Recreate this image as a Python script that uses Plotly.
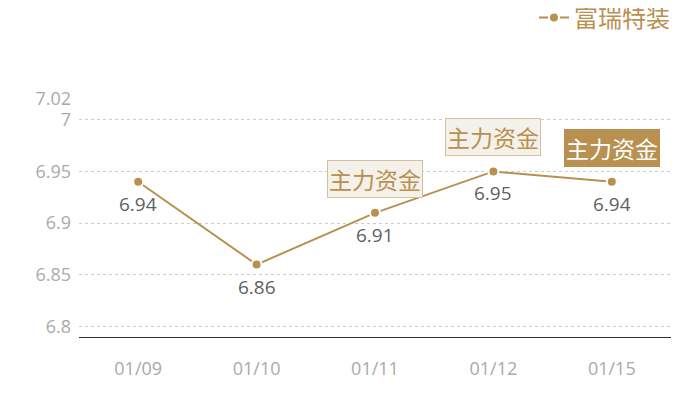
import plotly.graph_objs as go

# data
dates = ["01/09", "01/10", "01/11", "01/12", "01/15"]
prices = [6.94, 6.86, 6.91, 6.95, 6.94]
series_name = "富瑞特装"
y_ticks = [6.8, 6.85, 6.9, 6.95, 7, 7.02]
y_tick_text = ["6.8", "6.85", "6.9", "6.95", "7", "7.02"]
flag_text = "主力资金"
flag_dates = ["01/11", "01/12", "01/15"]
flag_solid = [False, False, True]

gold = "#b8904f"
font_family = "Open Sans, Noto Sans CJK SC, sans-serif"

# page body has an 8px margin, so the figure sits 8px right/down in the window
off = 8
ml, mt = 79 - off, 99 - off
mr, mb = 29 + off, 63 + off
plot_w = 700 - ml - mr
plot_h = 400 - mt - mb

fig = go.Figure()
fig.add_trace(
    go.Scatter(
        x=dates,
        y=prices,
        name=series_name,
        mode="lines+markers",
        line=dict(color=gold, width=2),
        marker=dict(color=gold, size=10, line=dict(color="white", width=2)),
        showlegend=True,
    )
)

# value labels under each point
for d, v in zip(dates, prices):
    fig.add_annotation(
        x=d,
        y=v,
        text=f"{v:.2f}",
        showarrow=False,
        yshift=-22,
        font=dict(size=19, color="#5f5f5f", family=font_family),
    )

for d, solid in zip(flag_dates, flag_solid):
    fig.add_annotation(
        x=d,
        y=prices[dates.index(d)],
        text=flag_text,
        showarrow=False,
        yshift=34,
        font=dict(size=23, color="#ffffff" if solid else gold, family="Noto Sans CJK SC"),
        bgcolor=gold if solid else "#f4f0ea",
        bordercolor=gold if solid else "#d6c09b",
        borderwidth=1,
        borderpad=1,
    )

fig.update_layout(
    width=700,
    height=400,
    margin=dict(l=ml, r=mr, t=mt, b=mb, autoexpand=False),
    paper_bgcolor="white",
    plot_bgcolor="white",
    font=dict(family=font_family, size=18, color="#aaaaaa"),
    showlegend=True,
    legend=dict(
        x=1 + (675 - off - (700 - mr)) / plot_w,
        xanchor="right",
        y=1 + (mt - (18 - off)) / plot_h,
        yanchor="middle",
        font=dict(size=24, color=gold, family="Noto Sans CJK SC"),
        bgcolor="rgba(0,0,0,0)",
        itemwidth=30,
    ),
    xaxis=dict(
        type="category",
        range=[-0.5, 4.5],
        showgrid=False,
        showline=True,
        linecolor="#333333",
        linewidth=1,
        ticks="",
        tickfont=dict(size=18, color="#aaaaaa"),
        ticklabelstandoff=15,
        zeroline=False,
    ),
    yaxis=dict(
        range=[6.79, 7.02],
        tickvals=y_ticks,
        ticktext=y_tick_text,
        showgrid=True,
        gridcolor="#cccccc",
        griddash="dot",
        gridwidth=1,
        showline=False,
        zeroline=False,
        ticks="",
        tickfont=dict(size=18, color="#aaaaaa"),
        ticklabelstandoff=7,
    ),
)

fig.write_html("out.html")
